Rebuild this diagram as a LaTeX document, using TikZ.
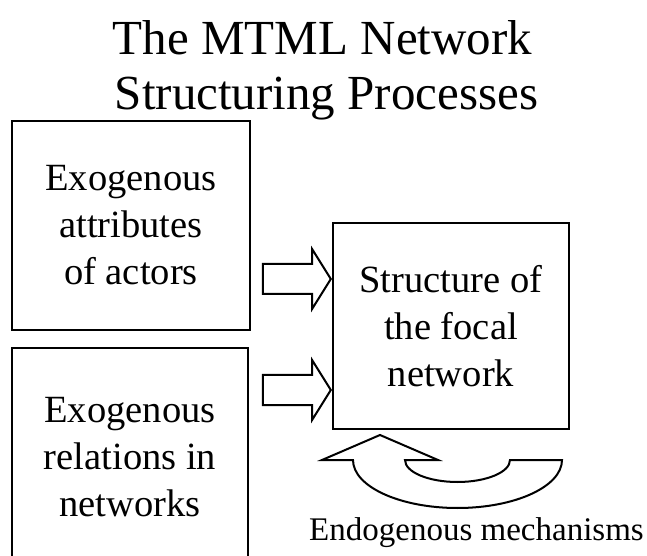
\documentclass[tikz,border=0pt]{standalone}
\usepackage{fontspec}
\setmainfont{Liberation Serif}
\usetikzlibrary{shapes.arrows}

\tikzset{
    boxnode/.style={draw, line width=1.5pt, align=center, inner sep=0pt,
        font=\fontsize{28.9}{35.25}\selectfont},
    blockarrow/.style={draw, line width=1.5pt, single arrow, inner xsep=0pt, inner ysep=10.5pt,
        minimum height=51pt,
        single arrow head extend=11.25pt, single arrow tip angle=116},
    titletext/.style={anchor=base, font=\fontsize{36.75}{41.25}\selectfont},
}

\begin{document}
\begin{tikzpicture}[x=0.75pt, y=-0.75pt]
            \clip (0,0) rectangle (647,556);
            % title
            \node[titletext] (titleA) at (322.5,55) {The MTML Network};
            \node[titletext] (titleB) at (326.5,110) {Structuring Processes};
            % boxes
            \node[boxnode, minimum width=178.5pt, minimum height=156.75pt] (attr) at (131,225.5) {Exogenous\\attributes\\of actors};
            \node[boxnode, minimum width=177pt, minimum height=163.5pt] (rel) at (130,457) {Exogenous\\relations in\\networks};
            \node[boxnode, minimum width=177pt, minimum height=154.5pt] (focal) at (451,326) {Structure of\\the focal\\network};
            % block arrows into the focal network
            \node[blockarrow, anchor=tip] (arrA) at (focal.west |- 0,279) {};
            \node[blockarrow, anchor=tip] (arrB) at (focal.west |- 0,390) {};
            % endogenous loop
            \draw[line width=1.5pt, line join=miter] (380,435) -- (438,460) -- (405,460)
                arc[start angle=180, end angle=0, x radius=52.5, y radius=22] -- (562,460)
                arc[start angle=0, end angle=180, x radius=104.5, y radius=48] -- (322,460) -- cycle;
            \node[anchor=base, font=\fontsize{24.75}{30}\selectfont] (endo) at (476.5,540) {Endogenous mechanisms};
\end{tikzpicture}
\end{document}
